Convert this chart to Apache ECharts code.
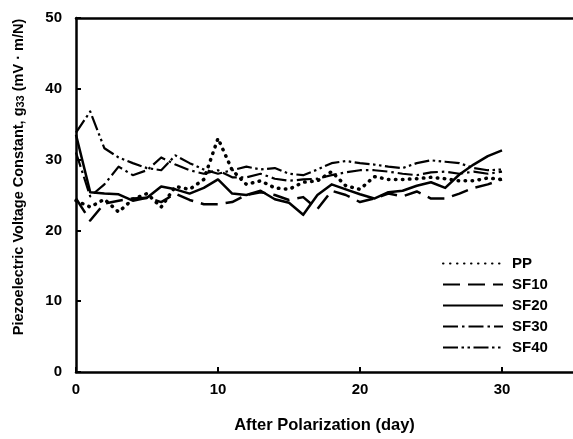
<!DOCTYPE html>
<html><head><meta charset="utf-8">
<script src="https://cdn.jsdelivr.net/npm/echarts@6/dist/echarts.min.js"></script>
<style>html,body{margin:0;padding:0;background:#fff}#c{width:573px;height:439px}</style>
</head><body><div id="c"></div>
<script>
const days = [0,1,2,3,4,5,6,7,8,9,10,11,12,13,14,15,16,17,18,19,20,21,22,23,24,25,26,27,28,29,30];
const seriesNames = ['PP','SF10','SF20','SF30','SF40'];
const pp   = [24.2,23.3,24.4,22.6,24.4,25.2,23.3,26.2,25.8,27.2,33.0,28.5,26.5,27.0,26.0,25.8,26.8,27.0,28.3,26.3,25.8,27.6,27.2,27.2,27.3,27.5,27.3,27.0,27.0,27.4,27.2];
const sf10 = [24.5,21.4,23.8,24.2,24.5,24.6,24.0,25.2,24.3,23.7,23.7,24.0,25.0,25.4,25.0,24.3,24.7,23.0,25.6,25.0,24.0,24.5,25.2,24.8,25.5,24.5,24.5,25.2,26.0,26.5,27.2];
const sf20 = [33.5,25.4,25.2,25.1,24.2,24.6,26.2,25.8,25.2,26.0,27.2,25.2,25.0,25.6,24.4,23.9,22.2,25.0,26.5,25.8,25.1,24.5,25.4,25.6,26.3,26.8,26.0,27.9,29.3,30.5,31.3];
const sf30 = [31.0,24.8,26.5,29.0,27.8,28.5,30.3,29.3,28.5,28.0,28.5,27.5,27.5,28.0,27.3,27.0,27.2,27.3,27.8,28.2,28.5,28.5,28.3,28.0,27.8,28.2,28.3,28.0,28.3,28.0,28.3];
const sf40 = [33.8,36.8,31.6,30.3,29.5,28.8,28.5,30.6,29.5,28.6,28.0,28.5,29.0,28.6,28.8,28.0,27.8,28.6,29.5,29.8,29.5,29.3,29.0,28.8,29.5,29.9,29.7,29.5,28.8,28.5,28.6];
const xMin = 0, xMax = 35, xStep = 10;
const yMin = 0, yMax = 50, yStep = 10;
const xTitle = 'After Polarization (day)';
const yTitle = 'Piezoelectric Voltage Constant, g{sub|33} (mV · m/N)';

const FONT = '"Liberation Sans", Arial, Helvetica, sans-serif';
const values = [pp, sf10, sf20, sf30, sf40];
const dashes = [[0.5, 6.5], [17, 8], 'solid', [15, 4, 2.5, 4], [15, 3.5, 2.5, 3.5, 2.5, 3.5]];
const caps = ['round', 'butt', 'butt', 'butt', 'butt'];
const widths = [3.5, 2.5, 2.5, 2.2, 2.2];

const chart = echarts.init(document.getElementById('c'), null, {renderer: 'canvas'});
chart.setOption({
  backgroundColor: '#fff',
  animation: false,
  grid: {left: 75, right: 0, top: 18, bottom: 62, containLabel: false},
  legend: {
    orient: 'vertical', left: 442, top: 256, padding: 0,
    itemWidth: 60, itemHeight: 14, itemGap: 6,
    itemStyle: {opacity: 0},
    textStyle: {fontFamily: FONT, fontWeight: 'bold', fontSize: 15, color: '#000', padding: [0,0,0,4]},
    data: seriesNames
  },
  xAxis: [{
    type: 'value', min: xMin, max: xMax, interval: xStep,
    name: xTitle, nameLocation: 'middle', nameGap: 45,
    nameTextStyle: {fontFamily: FONT, fontWeight: 'bold', fontSize: 16.5, color: '#000'},
    axisLine: {show: true, lineStyle: {color: '#000', width: 2.5}},
    axisTick: {show: true, inside: true, length: 5, lineStyle: {color: '#000', width: 2}},
    axisLabel: {fontFamily: FONT, fontWeight: 'bold', fontSize: 15, color: '#000', margin: 10, showMaxLabel: false},
    splitLine: {show: false}
  }, {
    type: 'value', min: xMin, max: xMax, position: 'top',
    axisLine: {show: true, lineStyle: {color: '#000', width: 2.5}},
    axisTick: {show: false}, axisLabel: {show: false}, splitLine: {show: false}
  }],
  yAxis: {
    type: 'value', min: yMin, max: yMax, interval: yStep,
    name: yTitle, nameLocation: 'middle', nameGap: 50, nameRotate: 90,
    nameTextStyle: {
      fontFamily: FONT, fontWeight: 'bold', fontSize: 14.5, color: '#000',
      padding: [0, 0, 0, 36],
      rich: {sub: {fontFamily: FONT, fontWeight: 'bold', fontSize: 11, color: '#000', verticalAlign: 'bottom', lineHeight: 12, padding: [7,0,0,0]}}
    },
    axisLine: {show: true, lineStyle: {color: '#000', width: 2.5}},
    axisTick: {show: true, inside: true, length: 5, lineStyle: {color: '#000', width: 2}},
    axisLabel: {fontFamily: FONT, fontWeight: 'bold', fontSize: 15, color: '#000', margin: 14},
    splitLine: {show: false}
  },
  series: seriesNames.map((n, i) => ({
    name: n, type: 'line', xAxisIndex: 0,
    data: days.map((d, j) => [d, values[i][j]]),
    symbol: 'none', showSymbol: false,
    lineStyle: {color: '#000', width: widths[i], type: dashes[i], cap: caps[i], join: 'round'},
    itemStyle: {color: '#000'}
  }))
});
</script></body></html>
